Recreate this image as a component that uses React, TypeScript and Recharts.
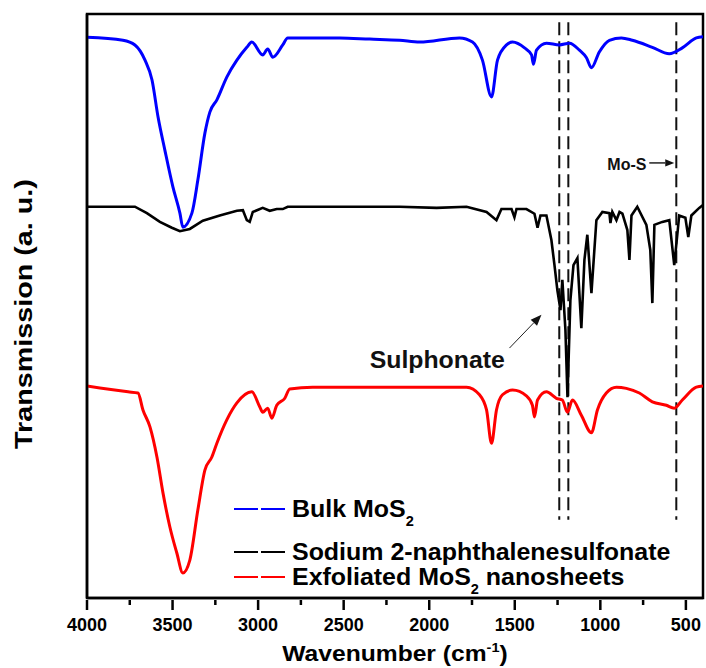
import React from "react";
import {
  LineChart,
  Line,
  XAxis,
  YAxis,
  Label,
  Legend,
  ReferenceLine,
  ReferenceArea,
  ReferenceDot,
} from "recharts";

const FONT = '"Liberation Sans", Arial, Helvetica, sans-serif';

// wavenumber (cm-1) / transmission (a.u., 0-100 stacked scale)
const WN_BULK = [
  4000, 3790, 3720, 3661, 3620, 3585, 3545, 3498, 3457, 3440, 3387, 3352, 3311, 3282, 3241, 3183, 3124, 3066,
  3037, 2973, 2944, 2914, 2856, 2827, 2523, 2348, 2173, 2056, 1823, 1747, 1689, 1636, 1601, 1548, 1513, 1443,
  1402, 1391, 1373, 1315, 1239, 1180, 1122, 1081, 1052, 1006, 947, 877, 813, 696, 597, 521, 439, 400,
];
const T_BULK = [
  96.0, 95.5, 94.7, 92.1, 88.7, 82.4, 76.7, 70.4, 65.9, 63.5, 65.9, 71.6, 79.6, 83.2, 85.3, 89.2, 92.1, 94.3,
  95.2, 93.0, 94.0, 92.6, 94.7, 95.9, 95.9, 95.7, 95.5, 95.2, 95.9, 95.2, 92.1, 85.8, 92.1, 94.7, 95.2, 94.2,
  93.0, 91.4, 93.8, 95.0, 94.7, 95.0, 93.8, 92.5, 90.8, 93.5, 95.5, 95.9, 95.5, 94.3, 93.2, 94.2, 95.9, 96.1,
];

const WN_NAPH = [
  4000, 3720, 3650, 3574, 3504, 3457, 3399, 3323, 3224, 3124, 3089, 3066, 3049, 3031, 2973, 2932, 2891, 2856,
  2827, 2173, 1957, 1782, 1665, 1607, 1578, 1519, 1502, 1490, 1432, 1385, 1367, 1350, 1315, 1286, 1268, 1251,
  1233, 1222, 1204, 1192, 1175, 1157, 1134, 1111, 1093, 1076, 1052, 1023, 988, 947, 941, 930, 906, 888, 871,
  842, 830, 818, 784, 731, 708, 696, 684, 638, 597, 568, 539, 503, 486, 468, 422, 400,
];
const T_NAPH = [
  67.0, 67.0, 65.9, 64.4, 63.4, 62.8, 63.2, 64.6, 65.5, 66.3, 66.4, 64.7, 64.4, 66.1, 66.8, 66.3, 66.6, 66.6,
  67.0, 67.0, 66.8, 67.0, 66.1, 64.7, 66.6, 66.6, 65.2, 66.6, 66.6, 65.8, 63.4, 65.5, 65.5, 61.3, 57.0, 52.7,
  49.3, 54.5, 45.9, 34.4, 51.0, 57.0, 58.2, 46.2, 57.9, 62.2, 52.2, 64.7, 66.1, 65.9, 64.2, 66.1, 64.7, 66.1, 65.8,
  63.0, 57.9, 65.5, 67.0, 63.9, 59.6, 50.5, 63.9, 64.4, 64.7, 57.0, 65.5, 65.1, 61.8, 65.5, 66.8, 67.3,
];

const WN_EXF = [
  4000, 3760, 3702, 3673, 3632, 3591, 3556, 3516, 3475, 3440, 3399, 3352, 3311, 3271, 3241, 3183, 3124, 3037,
  2990, 2973, 2944, 2920, 2891, 2844, 2815, 2681, 2173, 1782, 1706, 1665, 1636, 1607, 1572, 1513, 1432, 1397,
  1385, 1367, 1315, 1257, 1222, 1192, 1163, 1111, 1052, 1017, 965, 906, 848, 772, 696, 614, 568, 521, 439, 400,
];
const T_EXF = [
  36.3, 35.3, 35.1, 32.2, 29.3, 24.1, 18.0, 12.2, 7.7, 4.3, 6.5, 15.1, 21.9, 24.1, 26.5, 30.5, 33.4, 35.3,
  32.7, 31.8, 32.5, 30.8, 33.0, 34.2, 35.8, 36.1, 36.1, 36.1, 34.8, 32.2, 26.5, 32.2, 34.8, 35.6, 34.6, 33.0,
  31.0, 33.9, 35.3, 34.2, 33.9, 31.8, 33.9, 31.3, 28.3, 32.2, 35.1, 36.1, 35.9, 35.1, 33.6, 33.0, 32.5, 33.9, 36.1, 36.3,
];

const SERIES_NAMES = ["Bulk MoS2", "Sodium 2-naphthalenesulfonate", "Exfoliated MoS2 nanosheets"];
const SERIES_COLORS = ["#0000ff", "#000000", "#ff0000"];

const X_TICKS = [4000, 3750, 3500, 3250, 3000, 2750, 2500, 2250, 2000, 1750, 1500, 1250, 1000, 750, 500];
const DASHED_WN = [1240, 1187, 556];
const DASHED_SPAN = [98.6, 13.4];

const MOS_LABEL = { wn: 959, t: 73.3 };
const MOS_ARROW = [{ wn: 714, t: 74.5 }, { wn: 568, t: 74.5 }];
const SULF_LABEL = { wn: 2348, t: 39.4 };
const SULF_ARROW = [{ wn: 1531, t: 42.8 }, { wn: 1344, t: 48.5 }];

const toRows = (wn: number[], t: number[]) => wn.map((w, i) => ({ wn: w, t: t[i] }));

function withSub(text: string, sub: number, shift: number) {
  const out: React.ReactNode[] = [];
  let back = 0;
  text.split(/(MoS2)/).forEach((p, i) => {
    if (!p) return;
    if (p === "MoS2") {
      out.push(<tspan key={i + "a"}>MoS</tspan>);
      out.push(
        <tspan key={i + "b"} fontSize={sub} dy={shift}>
          2
        </tspan>
      );
      back = -shift;
    } else {
      out.push(
        <tspan key={i} dy={back || undefined}>
          {p}
        </tspan>
      );
      back = 0;
    }
  });
  return out;
}

const XTick = (props: any) => {
  const { x, y, payload } = props;
  const major = payload.value % 500 === 0;
  return (
    <g>
      <line x1={x} y1={y} x2={x} y2={y + (major ? 10 : 5)} stroke="#000" strokeWidth={2.5} />
      {major && (
        <text x={x} y={y + 31} textAnchor="middle" fontSize={18} fontWeight="bold" fontFamily={FONT} fill="#000">
          {payload.value}
        </text>
      )}
    </g>
  );
};

const arrowShape = (head: number, width: number) => (p: any) => {
  const { x1, y1, x2, y2 } = p;
  const a = Math.atan2(y2 - y1, x2 - x1);
  const hx = x2 - head * Math.cos(a);
  const hy = y2 - head * Math.sin(a);
  const nx = -Math.sin(a) * head * 0.4;
  const ny = Math.cos(a) * head * 0.4;
  return (
    <g>
      <line x1={x1} y1={y1} x2={hx} y2={hy} stroke="#222" strokeWidth={width} />
      <polygon points={`${x2},${y2} ${hx + nx},${hy + ny} ${hx - nx},${hy - ny}`} fill="#111" />
    </g>
  );
};

const textShape = (text: string, size: number, stretch: number) => (p: any) => (
  <text
    transform={`translate(${p.cx} ${p.cy}) scale(${stretch} 1)`}
    fontSize={size}
    fontWeight="bold"
    fontFamily={FONT}
    fill="#111"
  >
    {text}
  </text>
);

const XTitle = (props: any) => {
  const vb = props.viewBox;
  const cx = vb.x + vb.width / 2;
  return (
    <text
      transform={`translate(${cx} ${vb.y + 63}) scale(1.12 1)`}
      textAnchor="middle"
      fontSize={22}
      fontWeight="bold"
      fontFamily={FONT}
      fill="#000"
    >
      Wavenumber (cm
      <tspan fontSize={13} dy={-9}>
        -1
      </tspan>
      <tspan dy={9}>)</tspan>
    </text>
  );
};

const YTitle = (props: any) => {
  const vb = props.viewBox;
  const cy = vb.y + vb.height / 2 + 8;
  return (
    <text
      transform={`translate(${vb.x + 32} ${cy}) rotate(-90) scale(1.25 1)`}
      textAnchor="middle"
      fontSize={23}
      fontWeight="bold"
      fontFamily={FONT}
      fill="#000"
    >
      Transmission (a. u.)
    </text>
  );
};

const LegendBox = (props: any) => {
  const items = [...(props.payload ?? [])].sort(
    (a: any, b: any) => SERIES_NAMES.indexOf(a.value) - SERIES_NAMES.indexOf(b.value)
  );
  const rows = [19, 62, 87];
  return (
    <svg width={470} height={110} style={{ display: "block", overflow: "visible" }}>
      {items.map((it: any, i: number) => (
        <g key={it.value}>
          <line x1={4} x2={28} y1={rows[i]} y2={rows[i]} stroke={it.color} strokeWidth={2} />
          <line x1={31} x2={55} y1={rows[i]} y2={rows[i]} stroke={it.color} strokeWidth={2} />
          <text
            transform={`translate(62 ${rows[i] + 8}) scale(1.04 1)`}
            fontSize={24}
            fontWeight="bold"
            fontFamily={FONT}
            fill="#000"
          >
            {withSub(it.value, 14, 9)}
          </text>
        </g>
      ))}
    </svg>
  );
};

export default function App() {
  const bulk = toRows(WN_BULK, T_BULK);
  const naph = toRows(WN_NAPH, T_NAPH);
  const exf = toRows(WN_EXF, T_EXF);

  return (
    <div style={{ position: "absolute", left: 0, top: 0, width: 706, height: 668, background: "#fff" }}>
      <LineChart width={706} height={668} margin={{ top: 14, right: 3, bottom: 0, left: 0 }}>
        <XAxis
          dataKey="wn"
          type="number"
          domain={[400, 4000]}
          reversed
          ticks={X_TICKS}
          interval={0}
          allowDataOverflow
          height={70}
          tickSize={0}
          tickLine={false}
          tick={<XTick />}
          axisLine={{ stroke: "#000", strokeWidth: 2.5 }}
        >
          <Label content={<XTitle />} />
        </XAxis>
        <YAxis
          type="number"
          domain={[0, 100]}
          width={87}
          tick={false}
          tickLine={false}
          axisLine={{ stroke: "#000", strokeWidth: 2.5 }}
        >
          <Label content={<YTitle />} />
        </YAxis>
        <ReferenceArea
          x1={4000}
          x2={400}
          y1={0}
          y2={100}
          fill="none"
          fillOpacity={0}
          stroke="#000"
          strokeWidth={2.5}
          ifOverflow="visible"
        />
        {DASHED_WN.map((w) => (
          <ReferenceLine
            key={w}
            segment={[
              { x: w, y: DASHED_SPAN[0] },
              { x: w, y: DASHED_SPAN[1] },
            ]}
            stroke="#111"
            strokeWidth={2}
            strokeDasharray="13 6"
          />
        ))}
        <Line
          data={bulk}
          dataKey="t"
          name={SERIES_NAMES[0]}
          type="monotone"
          stroke={SERIES_COLORS[0]}
          strokeWidth={3}
          dot={false}
          activeDot={false}
          isAnimationActive={false}
        />
        <Line
          data={naph}
          dataKey="t"
          name={SERIES_NAMES[1]}
          type="linear"
          stroke={SERIES_COLORS[1]}
          strokeWidth={2.6}
          dot={false}
          activeDot={false}
          isAnimationActive={false}
        />
        <Line
          data={exf}
          dataKey="t"
          name={SERIES_NAMES[2]}
          type="monotone"
          stroke={SERIES_COLORS[2]}
          strokeWidth={3}
          dot={false}
          activeDot={false}
          isAnimationActive={false}
        />
        <ReferenceLine
          segment={[
            { x: MOS_ARROW[0].wn, y: MOS_ARROW[0].t },
            { x: MOS_ARROW[1].wn, y: MOS_ARROW[1].t },
          ]}
          shape={arrowShape(9, 1.5)}
        />
        <ReferenceLine
          segment={[
            { x: SULF_ARROW[0].wn, y: SULF_ARROW[0].t },
            { x: SULF_ARROW[1].wn, y: SULF_ARROW[1].t },
          ]}
          shape={arrowShape(11, 1)}
        />
        <ReferenceDot x={MOS_LABEL.wn} y={MOS_LABEL.t} r={0} shape={textShape("Mo-S", 16, 1)} />
        <ReferenceDot x={SULF_LABEL.wn} y={SULF_LABEL.t} r={0} shape={textShape("Sulphonate", 23, 1.08)} />
        <Legend
          layout="horizontal"
          verticalAlign="middle"
          align="center"
          content={<LegendBox />}
          wrapperStyle={{ left: 230, top: 490, width: 470, height: 110 }}
        />
      </LineChart>
    </div>
  );
}
